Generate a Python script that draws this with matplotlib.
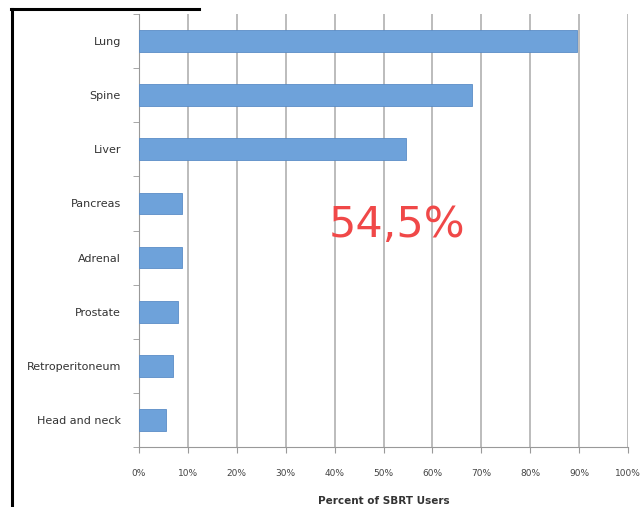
import numpy as np
import matplotlib.pyplot as plt
from matplotlib.lines import Line2D

# SBRT treatment sites, share of users (%)
sites = ["Lung", "Spine", "Liver", "Pancreas", "Adrenal", "Prostate",
         "Retroperitoneum", "Head and neck"]
percent = [89.5, 68.0, 54.5, 8.8, 8.8, 8.0, 7.0, 5.5]
tick_labels = ["0%", "10%", "20%", "30%", "40%", "50%", "60%", "70%", "80%", "90%", "100%"]
highlight = "54,5%"

fig = plt.figure(figsize=(6.41, 5.07), dpi=100)
ax = fig.add_axes([139 / 641, 1 - 447 / 507, 489 / 641, 433 / 507])

y = np.arange(len(sites))
ax.barh(y, percent, height=0.4, color="#6ea2da", edgecolor="#5a8cc6", linewidth=0.6, zorder=3)
ax.set_ylim(len(sites) - 0.5, -0.5)
ax.set_xlim(0, 100)

ax.set_xticks(np.arange(0, 101, 10))
ax.set_xticklabels(tick_labels, fontsize=6.5, color="#444444")
ax.set_yticks(y)
ax.set_yticklabels(sites, fontsize=8, color="#333333")
ax.set_yticks(np.arange(-0.5, len(sites), 1), minor=True)
ax.tick_params(axis="y", which="major", length=0, pad=13)
ax.tick_params(axis="y", which="minor", length=4, color="#999999")
ax.tick_params(axis="x", length=4, color="#999999", pad=12)

ax.grid(axis="x", color="#b0b0b0", linewidth=1.2, zorder=0)
for side in ["top", "right"]:
    ax.spines[side].set_visible(False)
ax.spines["left"].set_color("#999999")
ax.spines["bottom"].set_color("#999999")

ax.set_xlabel("Percent of SBRT Users", fontsize=7.5, fontweight="bold", color="#333333", labelpad=13)

ax.text(0.527, 0.513, highlight, transform=ax.transAxes, fontsize=31, color="#f04848",
        ha="center", va="center", zorder=5)

# black frame at the left and top
fig.add_artist(Line2D([12 / 641, 12 / 641], [0, 1 - 9 / 507], color="black", linewidth=2.2, zorder=10))
fig.add_artist(Line2D([11 / 641, 199 / 641], [1 - 9 / 507, 1 - 9 / 507], color="black", linewidth=2.2, zorder=10))

fig.savefig("out.png", dpi=100)
